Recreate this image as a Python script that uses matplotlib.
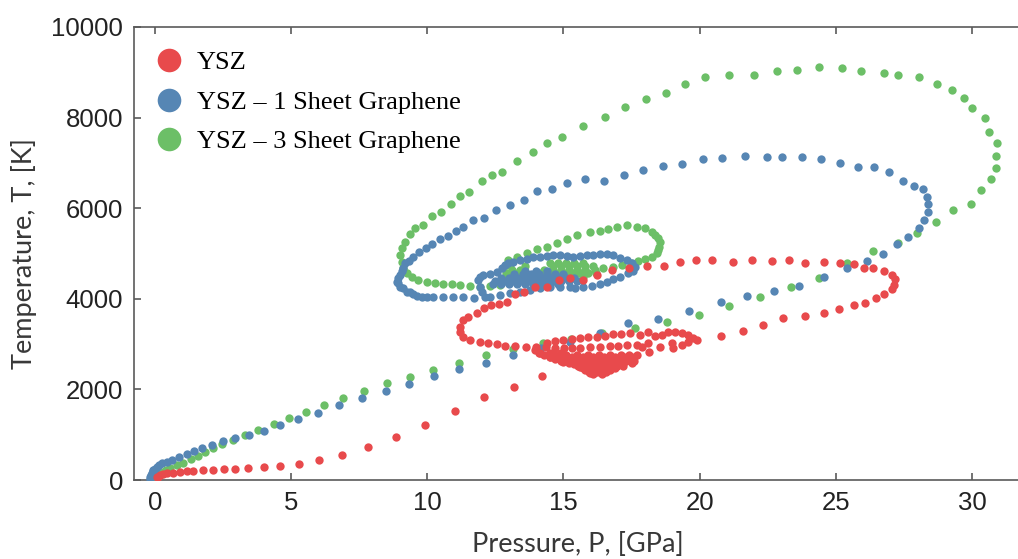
import matplotlib

matplotlib.use("agg")
from matplotlib import pyplot as plt
from matplotlib.lines import Line2D
import numpy as np

# Pressure P [GPa] / temperature T [K] along each shock trajectory

# ---- YSZ ----
ysz_rise = [(0.06, 60), (0.11, 70), (0.18, 100), (0.30, 130), (0.43, 150), (0.66, 160),
            (0.92, 180), (1.18, 195), (1.40, 200), (1.76, 215), (2.13, 225), (2.53, 240),
            (2.94, 245), (3.42, 265), (4.00, 285), (4.59, 310), (5.29, 355), (6.02, 440),
            (6.87, 555), (7.82, 730), (8.85, 950), (9.92, 1215), (11.02, 1525),
            (12.08, 1830), (13.18, 2050), (14.21, 2300)]
ysz_tip = [(17.81, 3200), (18.10, 3270), (18.36, 3180), (18.62, 3200), (18.84, 3270),
           (19.10, 3270), (19.35, 3250), (19.57, 3200), (19.76, 3140), (19.90, 3090),
           (17.88, 2940), (18.10, 3025), (18.15, 2830), (18.55, 2940), (18.99, 3025),
           (19.02, 2915), (19.35, 2980), (19.57, 3050)]
ysz_outer = [(20.79, 3180), (21.59, 3290), (22.33, 3420), (23.06, 3580), (23.87, 3620),
             (24.57, 3690), (25.12, 3780), (25.67, 3860), (26.07, 3910), (26.48, 4020),
             (26.77, 4110), (27.07, 4220), (27.14, 4310), (27.18, 4440), (27.07, 4530),
             (26.77, 4615), (26.37, 4680), (26.04, 4680), (25.67, 4770), (25.16, 4790),
             (24.57, 4810), (23.87, 4790), (23.28, 4860), (22.66, 4840), (21.92, 4860),
             (21.23, 4810), (20.46, 4860), (19.87, 4860), (19.28, 4810), (18.69, 4725),
             (18.07, 4725), (17.41, 4680), (16.78, 4640), (16.23, 4530), (15.72, 4420),
             (15.24, 4460), (14.84, 4420), (14.40, 4260), (13.96, 4260), (13.55, 4150),
             (13.22, 4110), (12.93, 3930), (12.63, 3890), (12.34, 3860), (12.08, 3800),
             (11.83, 3690), (11.49, 3600), (11.31, 3530), (11.20, 3380), (11.20, 3270),
             (11.31, 3160), (11.57, 3090), (11.94, 3050), (12.23, 3025), (12.56, 3000),
             (12.85, 2960), (13.22, 2960), (13.62, 2940)]
ysz_inner = [(13.98, 2930), (14.36, 2925), (14.69, 2920), (15.02, 2915), (15.31, 2915),
             (15.61, 2920), (15.97, 2930), (16.34, 2940), (16.71, 2950), (17.00, 2960),
             (17.33, 2970), (17.70, 2980),
             (14.39, 3025), (14.69, 3070), (14.98, 3090), (15.31, 3110), (15.61, 3135),
             (15.90, 3160), (16.23, 3160), (16.53, 3180), (16.82, 3225), (17.11, 3225),
             (17.44, 3245),
             (13.96, 2870), (14.14, 2800), (14.51, 2720), (14.98, 2605), (15.61, 2495),
             (15.97, 2365)]
# settled core, one row of pressures per temperature
ysz_core = {2800: [14.1, 14.5, 14.9],
            2760: [14.3, 14.7, 15.1, 15.5, 15.9, 16.3, 16.7, 17.1, 17.4, 17.7],
            2720: [14.5, 14.9, 15.3, 15.7, 16.1, 16.5, 16.9, 17.3, 17.6],
            2680: [14.7, 15.1, 15.5, 15.9, 16.3, 16.7, 17.1, 17.5],
            2630: [14.9, 15.3, 15.7, 16.1, 16.5, 16.9, 17.3, 17.6],
            2590: [15.2, 15.6, 16.0, 16.4, 16.8, 17.2, 17.5],
            2550: [15.4, 15.75, 16.1, 16.45, 16.8, 17.15],
            2510: [15.55, 15.9, 16.25, 16.6, 16.95, 17.2],
            2470: [15.7, 16.0, 16.3, 16.6, 16.9],
            2430: [15.8, 16.1, 16.4, 16.7],
            2390: [15.95, 16.25, 16.55],
            2350: [16.1, 16.4]}

# ---- YSZ - 1 sheet graphene ----
g1_rise = [(-0.18, 20), (-0.17, 70), (-0.15, 110), (-0.12, 150), (-0.09, 190), (-0.06, 220),
           (0.00, 250), (0.06, 290), (0.15, 330), (0.25, 370), (0.43, 400), (0.61, 440),
           (0.89, 510), (1.16, 570), (1.43, 640), (1.73, 700), (2.08, 770), (2.51, 850),
           (2.94, 920), (3.46, 990), (4.00, 1090), (4.59, 1210), (5.26, 1350), (6.00, 1490),
           (6.77, 1660), (7.61, 1810), (8.48, 1970), (9.34, 2130), (10.26, 2300),
           (11.18, 2440), (12.14, 2580), (13.16, 2760), (14.18, 2910), (15.24, 3050),
           (16.34, 3240), (17.38, 3460), (18.48, 3550), (19.62, 3720), (20.77, 3940),
           (21.75, 4070), (22.73, 4180), (23.66, 4290), (24.57, 4490), (25.41, 4690),
           (26.15, 4840), (26.75, 4990), (27.25, 5220), (27.66, 5370), (28.05, 5570),
           (28.23, 5740), (28.40, 5910)]
g1_outer = [(28.40, 6090), (28.34, 6240), (28.19, 6420), (27.88, 6480), (27.48, 6600),
            (26.94, 6790), (26.40, 6900), (25.83, 6920), (25.17, 6990), (24.46, 7090),
            (23.77, 7130), (23.03, 7120), (22.48, 7120), (21.68, 7150), (20.82, 7110),
            (20.12, 7090), (19.35, 6980), (18.64, 6940), (17.91, 6840), (17.22, 6730),
            (16.49, 6610), (15.79, 6640), (15.12, 6550), (14.57, 6430), (14.02, 6370),
            (13.55, 6170), (13.04, 6060), (12.52, 5950), (12.09, 5790), (11.69, 5730),
            (11.32, 5590), (11.06, 5490), (10.77, 5390), (10.47, 5310), (10.18, 5210),
            (9.94, 5120), (9.71, 5030), (9.49, 4930), (9.34, 4840), (9.18, 4780),
            (9.12, 4670), (9.06, 4610), (9.00, 4530), (8.94, 4460), (8.88, 4380),
            (8.94, 4340), (9.00, 4270), (9.12, 4230), (9.24, 4160), (9.36, 4140),
            (9.49, 4110), (9.62, 4070), (9.79, 4050), (9.99, 4040), (10.22, 4030),
            (10.59, 4030), (10.95, 4030), (11.32, 4030), (11.73, 4010)]
g1_inner = [(11.87, 4420), (11.94, 4270), (12.00, 4160), (12.12, 4050), (11.94, 4490),
            (12.06, 4530), (12.30, 4550), (12.55, 4600), (12.73, 4670), (12.85, 4750),
            (12.97, 4780), (13.16, 4820), (13.40, 4860), (13.65, 4870), (13.89, 4920),
            (14.14, 4930), (14.38, 4950), (14.63, 4960), (14.87, 4970), (15.12, 4950),
            (15.36, 4930), (15.61, 4950), (15.85, 4960), (16.10, 4970), (16.34, 4990),
            (16.59, 4990), (16.83, 4970), (17.08, 4900), (17.32, 4860), (17.51, 4780),
            (17.63, 4710), (17.57, 4620), (17.38, 4560), (17.08, 4490), (16.83, 4430),
            (16.59, 4380), (16.34, 4330), (16.04, 4280), (15.73, 4250), (15.42, 4230),
            (12.30, 4050), (12.67, 4080), (13.04, 4120), (13.40, 4160), (13.77, 4200),
            (14.14, 4230), (14.51, 4250), (14.87, 4270), (15.24, 4250)]
g1_core = {4330: [12.4, 12.7, 13.0, 13.3, 13.6, 13.9, 14.2, 14.5, 14.8],
           4400: [12.5, 12.8, 13.1, 13.4, 13.7, 14.0, 14.3, 14.6, 14.9, 15.2, 15.5],
           4470: [12.7, 13.0, 13.3, 13.6, 13.9, 14.2, 14.5, 14.8, 15.1, 15.4],
           4540: [13.2, 13.5, 13.8, 14.1, 14.4, 14.7, 15.0],
           4610: [13.6, 14.0, 14.4]}

# ---- YSZ - 3 sheet graphene ----
g3_rise = [(-0.12, 20), (-0.05, 70), (0.06, 110), (0.18, 150), (0.30, 180), (0.42, 220),
           (0.55, 260), (0.80, 330), (1.04, 380), (1.31, 460), (1.59, 530), (1.84, 610),
           (2.14, 700), (2.45, 800), (2.88, 880), (3.31, 990), (3.79, 1100), (4.37, 1230),
           (4.93, 1360), (5.55, 1500), (6.21, 1650), (6.92, 1800), (7.69, 1970),
           (8.51, 2140), (9.36, 2270), (10.22, 2430), (11.17, 2590), (12.14, 2750),
           (13.14, 2890), (14.25, 3020), (15.28, 3110), (16.40, 3240), (17.63, 3350),
           (18.82, 3480), (19.98, 3640), (21.08, 3840), (22.22, 4050), (23.34, 4250),
           (24.39, 4460), (25.40, 4780), (26.36, 5060), (27.30, 5240), (27.98, 5460),
           (28.68, 5700), (29.29, 5950), (29.97, 6100), (30.33, 6400), (30.69, 6650),
           (30.88, 6880)]
g3_outer = [(30.88, 7150), (30.92, 7430), (30.64, 7690), (30.47, 8000), (30.00, 8210),
            (29.70, 8430), (29.26, 8620), (28.72, 8740), (28.05, 8900), (27.29, 8930),
            (26.77, 8980), (25.92, 9020), (25.24, 9090), (24.40, 9120), (23.58, 9040),
            (22.84, 9030), (21.99, 8940), (21.07, 8940), (20.21, 8890), (19.45, 8740),
            (18.78, 8540), (18.03, 8410), (17.26, 8230), (16.53, 8010), (15.72, 7820),
            (14.94, 7580), (14.41, 7430), (13.87, 7250), (13.28, 7040), (12.73, 6810),
            (12.37, 6730), (12.00, 6590), (11.54, 6350), (11.20, 6260), (10.86, 6090),
            (10.50, 5920), (10.16, 5830), (9.85, 5630), (9.55, 5560), (9.36, 5430),
            (9.18, 5260), (9.06, 5120), (9.00, 4970), (9.06, 4820), (9.12, 4670),
            (9.24, 4560), (9.43, 4490), (9.67, 4420), (9.98, 4380), (10.28, 4340),
            (10.59, 4330), (10.90, 4330), (11.20, 4310), (11.57, 4280), (11.94, 4250),
            (12.30, 4280), (12.67, 4310)]
g3_inner = [(12.85, 4420), (12.91, 4560), (13.04, 4750), (12.97, 4860), (13.28, 4930),
            (13.65, 5010), (14.02, 5090), (14.38, 5150), (14.75, 5240), (15.12, 5310),
            (15.49, 5410), (15.98, 5480), (16.34, 5500), (16.64, 5540), (16.96, 5580),
            (17.32, 5630), (17.69, 5580), (18.00, 5560), (18.24, 5480), (18.36, 5410),
            (18.47, 5340), (18.55, 5260), (18.52, 5140), (18.48, 5080), (18.42, 5010),
            (18.24, 4930), (18.00, 4880), (17.74, 4840), (17.48, 4790), (17.15, 4750),
            (16.83, 4710), (16.47, 4670), (16.16, 4640)]
g3_core = {4480: [13.0, 13.3, 13.6, 13.9, 14.2, 14.5, 14.8, 15.1, 15.4, 15.7],
           4560: [12.9, 13.2, 13.5, 14.1, 14.4, 14.7, 15.0, 15.3, 15.6, 15.9, 16.2],
           4640: [13.1, 13.4, 14.3, 14.6, 14.9, 15.2, 15.5, 15.8],
           4720: [13.6, 14.6, 14.9, 15.2, 15.5, 15.8, 16.1],
           4790: [14.5, 14.8, 15.1, 15.4, 15.7]}

labels = ["YSZ", "YSZ \u2013 1 Sheet Graphene", "YSZ \u2013 3 Sheet Graphene"]
colors = ["#E84A4C", "#5686B4", "#6CBF67"]


def collect(segments, core):
    pts = [p for seg in segments for p in seg]
    pts += [(p, t) for t, ps in core.items() for p in ps]
    return np.array(pts, dtype=float)


series = [collect([ysz_rise, ysz_tip, ysz_outer, ysz_inner], ysz_core),
          collect([g1_rise, g1_outer, g1_inner], g1_core),
          collect([g3_rise, g3_outer, g3_inner], g3_core)]

fig = plt.figure(figsize=(10.18, 5.59), dpi=100)
ax = fig.add_axes([134 / 1018, 79 / 559, 888 / 1018, 453 / 559])

# green under blue under red
for z, idx in enumerate([2, 1, 0]):
    pts = series[idx]
    ax.scatter(pts[:, 0], pts[:, 1], s=36, color=colors[idx], linewidths=0,
               zorder=3 + z)

ax.set_xlim(-0.771, 31.84)
ax.set_ylim(0, 10000)
ax.set_xticks([0, 5, 10, 15, 20, 25, 30])
ax.set_yticks([0, 2000, 4000, 6000, 8000, 10000])

spine_col = "#5a5a5a"
for s in ax.spines.values():
    s.set_color(spine_col)
    s.set_linewidth(1.2)
ax.tick_params(direction="in", top=True, right=False, length=5, width=1.2,
               color=spine_col, labelcolor="#222222", labelsize=18.5, pad=8)
for lab in ax.get_xticklabels() + ax.get_yticklabels():
    lab.set_fontfamily("Liberation Sans")

ax.set_xlabel("Pressure, P, [GPa]", fontsize=19.5, family="Lato", color="#383838",
              labelpad=12)
ax.set_ylabel("Temperature, T, [K]", fontsize=19.5, family="Lato", color="#383838",
              labelpad=10)

handles = [Line2D([], [], marker="o", ls="", color=c, markersize=17, markeredgewidth=0)
           for c in colors]
ax.legend(handles, labels, loc="upper left", frameon=False,
          bbox_to_anchor=(156 / 1018, 1 - 51 / 559), bbox_transform=fig.transFigure,
          prop={"family": "Liberation Serif", "size": 19}, borderpad=0,
          handlelength=1.0, handletextpad=0.55, labelspacing=0.6, borderaxespad=0)

fig.savefig("out.png", dpi=100)
